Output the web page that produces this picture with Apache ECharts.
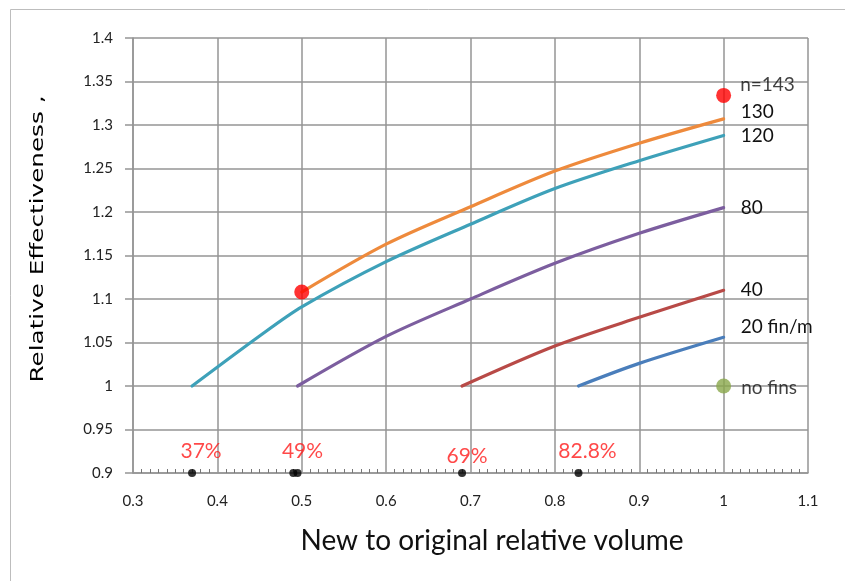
<!DOCTYPE html>
<html>
<head>
<meta charset="utf-8">
<script src="https://cdn.jsdelivr.net/npm/echarts@6/dist/echarts.min.js"></script>
<style>
  html, body { margin: 0; padding: 0; background: #fff; }
  #chart { width: 845px; height: 581px; }
</style>
</head>
<body>
<div id="chart"></div>
<script>
// Relative effectiveness vs. new-to-original volume for several fin densities
const fin20X = [0.828, 0.9, 1.0];
const fin20Y = [1.0, 1.026, 1.056];
const fin40X = [0.69, 0.8, 0.9, 1.0];
const fin40Y = [1.0, 1.046, 1.079, 1.11];
const fin80X = [0.495, 0.6, 0.7, 0.8, 0.9, 1.0];
const fin80Y = [1.0, 1.057, 1.1, 1.141, 1.1755, 1.205];
const fin120X = [0.37, 0.45, 0.5, 0.6, 0.7, 0.8, 0.9, 1.0];
const fin120Y = [1.0, 1.0575, 1.091, 1.143, 1.186, 1.227, 1.259, 1.288];
const fin130X = [0.5, 0.6, 0.7, 0.8, 0.9, 1.0];
const fin130Y = [1.108, 1.163, 1.206, 1.247, 1.279, 1.307];

const redPointsX = [0.5, 1.0];
const redPointsY = [1.108, 1.334];
const noFinsX = [1.0];
const noFinsY = [1.0];

// volume-reduction markers on the bottom axis
const volDotsX = [0.37, 0.49, 0.495, 0.69, 0.828];
const volDotLabels = ['37%', '', '49%', '69%', '82.8%'];
const volBaseY = 0.9;

const xTicks = { min: 0.3, max: 1.1, step: 0.1 };
const yTicks = { min: 0.9, max: 1.4, step: 0.05 };

const pair = (xs, ys) => xs.map((x, i) => [x, ys[i]]);

const chart = echarts.init(document.getElementById('chart'), null, { renderer: 'canvas' });
const gridColor = '#959595';
const calibri = 'Lato, "Open Sans", sans-serif';

function curve(name, xs, ys, color, label, offset) {
  return {
    name: name,
    type: 'line',
    data: pair(xs, ys),
    smooth: 0.3,
    showSymbol: false,
    symbol: 'none',
    lineStyle: { color: color, width: 3.2, cap: 'round' },
    endLabel: {
      show: true,
      formatter: label,
      color: '#111',
      fontFamily: calibri,
      fontSize: 19,
      distance: 17,
      offset: offset
    },
    z: 3
  };
}

chart.setOption({
  animation: false,
  backgroundColor: '#fff',
  grid: { left: 133, top: 38, right: 37, bottom: 108, containLabel: false },
  graphic: [{
    type: 'rect',
    shape: { x: 10.5, y: 9.5, width: 900, height: 700 },
    style: { fill: 'none', stroke: '#bdbdbd', lineWidth: 1 },
    silent: true,
    z: -10
  }, {
    // vertical axis title, drawn wide-set
    type: 'text',
    x: 38,
    y: 239,
    rotation: Math.PI / 2,
    scaleX: 1.45,
    scaleY: 1.05,
    style: {
      text: 'Relative Effectiveness ,',
      fontFamily: '"DejaVu Sans", Verdana, sans-serif',
      fontSize: 17,
      fill: '#000',
      align: 'center',
      verticalAlign: 'middle'
    },
    silent: true
  }],
  xAxis: {
    type: 'value',
    min: xTicks.min, max: xTicks.max, interval: xTicks.step,
    name: 'New to original relative volume',
    nameLocation: 'middle',
    nameGap: 54,
    nameTextStyle: { fontFamily: calibri, fontSize: 28, color: '#111', padding: [0, 0, 0, 43] },
    axisLine: { show: true, onZero: false, lineStyle: { color: gridColor, width: 1.5 } },
    axisTick: { show: false, inside: true },
    minorTick: { show: true, splitNumber: 10, length: 4, lineStyle: { color: '#777', width: 1 } },
    axisLabel: { fontFamily: calibri, fontSize: 15, color: '#222', margin: 21,
      formatter: v => String(Math.round(v * 10) / 10) },
    splitLine: { show: true, lineStyle: { color: gridColor, width: 1.5 } }
  },
  yAxis: {
    type: 'value',
    min: yTicks.min, max: yTicks.max, interval: yTicks.step,
    axisLine: { show: true, lineStyle: { color: gridColor, width: 1.5 } },
    axisTick: { show: true, length: 8, lineStyle: { color: gridColor, width: 1.5 } },
    axisLabel: { fontFamily: calibri, fontSize: 15, color: '#222', margin: 20,
      formatter: v => String(Math.round(v * 100) / 100) },
    splitLine: { show: true, lineStyle: { color: gridColor, width: 1.5 } }
  },
  series: [
    curve('20 fin/m', fin20X, fin20Y, '#4a7ebb', '20 fin/m', [0, -10]),
    curve('40', fin40X, fin40Y, '#b84a47', '40', [0, 0]),
    curve('80', fin80X, fin80Y, '#7c5e9f', '80', [0, 0]),
    curve('120', fin120X, fin120Y, '#3ea1b9', '120', [0, 0]),
    curve('130', fin130X, fin130Y, '#ee8a3c', '130', [0, -7]),
    {
      name: 'n=143',
      type: 'scatter',
      data: pair(redPointsX, redPointsY),
      symbolSize: 15,
      itemStyle: { color: '#ff0000' },
      label: {
        show: true,
        position: 'right',
        distance: 9,
        offset: [0, -11],
        color: '#111',
        fontFamily: calibri,
        fontSize: 19,
        formatter: p => (p.dataIndex === 1 ? 'n=143' : '')
      },
      clip: false,
      z: 5
    },
    {
      name: 'no fins',
      type: 'scatter',
      data: pair(noFinsX, noFinsY),
      symbolSize: 15,
      itemStyle: { color: '#8aa84b' },
      label: {
        show: true, position: 'right', distance: 10, offset: [0, 2],
        color: '#111', fontFamily: calibri, fontSize: 19, formatter: 'no fins'
      },
      z: 5
    },
    {
      name: 'volume',
      type: 'scatter',
      data: volDotsX.map(x => [x, volBaseY]),
      symbolSize: 8,
      itemStyle: { color: '#000' },
      clip: false,
      label: {
        show: true,
        position: 'top',
        distance: 7,
        color: '#ff1a1a',
        fontFamily: calibri,
        fontSize: 21,
        formatter: p => volDotLabels[p.dataIndex]
      },
      labelLayout: p => {
        const t = volDotLabels[p.dataIndex];
        const dx = (t === '37%' || t === '82.8%') ? 9 : 5;
        return { dx: dx, dy: t === '69%' ? 5 : 0 };
      },
      z: 6
    }
  ]
});
</script>
</body>
</html>
